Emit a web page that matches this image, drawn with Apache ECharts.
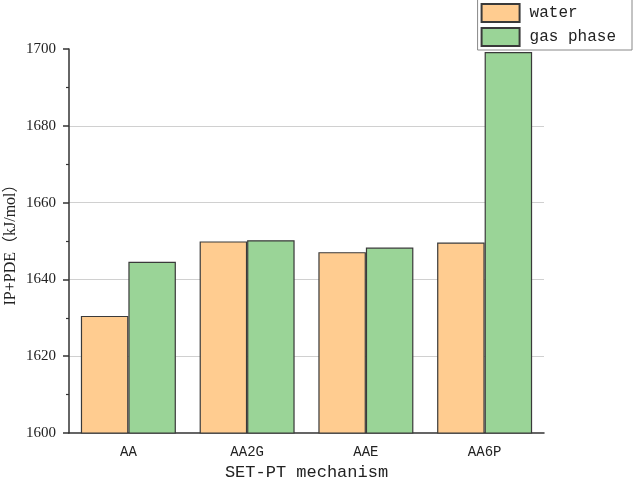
<!DOCTYPE html>
<html>
<head>
<meta charset="utf-8">
<script src="https://cdn.jsdelivr.net/npm/echarts@6/dist/echarts.min.js"></script>
<style>
  html, body { margin: 0; padding: 0; background: #fff; }
  #chart { width: 633px; height: 486px; }
</style>
</head>
<body>
<div id="chart"></div>
<script>
const categories = ['AA', 'AA2G', 'AAE', 'AA6P']
const waterValues = [1630.5, 1649.9, 1647.1, 1649.6]
const gasValues = [1644.6, 1650.2, 1648.3, 1699.2]

const serif = '"Liberation Serif", "Noto Sans CJK SC", serif'
const mono = '"Liberation Mono", "Noto Sans CJK SC", monospace'
const ink = '#333'

const chart = echarts.init(document.getElementById('chart'))
const option = {
  animation: false,
  grid: { left: 69, right: 89, top: 49, bottom: 53, containLabel: false, outerBoundsMode: 'none' },
  legend: {
    orient: 'vertical',
    right: 1,
    top: -2,
    icon: 'rect',
    itemWidth: 38,
    itemHeight: 18,
    itemGap: 4,
    padding: [5, 16, 3, 3],
    borderColor: '#888',
    borderWidth: 1,
    backgroundColor: '#fff',
    textStyle: { fontFamily: mono, fontSize: 16, color: '#222', padding: [0, 0, 0, 5] }
  },
  xAxis: [
    {
      type: 'category',
      data: categories,
      name: 'SET-PT mechanism',
      nameLocation: 'middle',
      nameGap: 31,
      nameMoveOverlap: false,
      nameTextStyle: { fontFamily: mono, fontSize: 17, color: '#222' },
      axisLine: { lineStyle: { color: ink, width: 1.5 } },
      axisTick: { alignWithLabel: true, length: 6, lineStyle: { color: ink, width: 1.5 } },
      axisLabel: { fontFamily: mono, fontSize: 14, color: '#222', margin: 12 }
    },
    {
      type: 'category',
      data: categories,
      position: 'bottom',
      axisLine: { show: false },
      axisTick: { length: 4, lineStyle: { color: ink, width: 1.5 } },
      axisLabel: { show: false }
    }
  ],
  yAxis: {
    type: 'value',
    min: 1600,
    max: 1700,
    interval: 20,
    name: 'IP+PDE（kJ/mol）',
    nameLocation: 'middle',
    nameGap: 50,
    nameMoveOverlap: false,
    nameTextStyle: { fontFamily: serif, fontSize: 16, color: '#222' },
    axisLine: { show: true, lineStyle: { color: ink, width: 1.5 } },
    axisTick: { show: true, length: 6, lineStyle: { color: ink, width: 1.5 } },
    minorTick: { show: true, splitNumber: 2, length: 3, lineStyle: { color: ink, width: 1.2 } },
    splitLine: { show: true, showMinLine: false, showMaxLine: false, lineStyle: { color: '#d0d0d0', width: 1 } },
    axisLabel: { fontFamily: serif, fontSize: 15, color: '#222', margin: 13, formatter: (v) => String(v) }
  },
  series: [
    {
      name: 'water',
      type: 'bar',
      data: waterValues,
      barWidth: 47.5,
      barGap: '0%',
      itemStyle: { color: '#FFCC90', borderColor: '#3a3a3a', borderWidth: 1.2 }
    },
    {
      name: 'gas phase',
      type: 'bar',
      data: gasValues,
      barWidth: 47.5,
      barGap: '0%',
      itemStyle: { color: '#9AD497', borderColor: '#3a3a3a', borderWidth: 1.2 }
    }
  ]
}
chart.setOption(option)
</script>
</body>
</html>
